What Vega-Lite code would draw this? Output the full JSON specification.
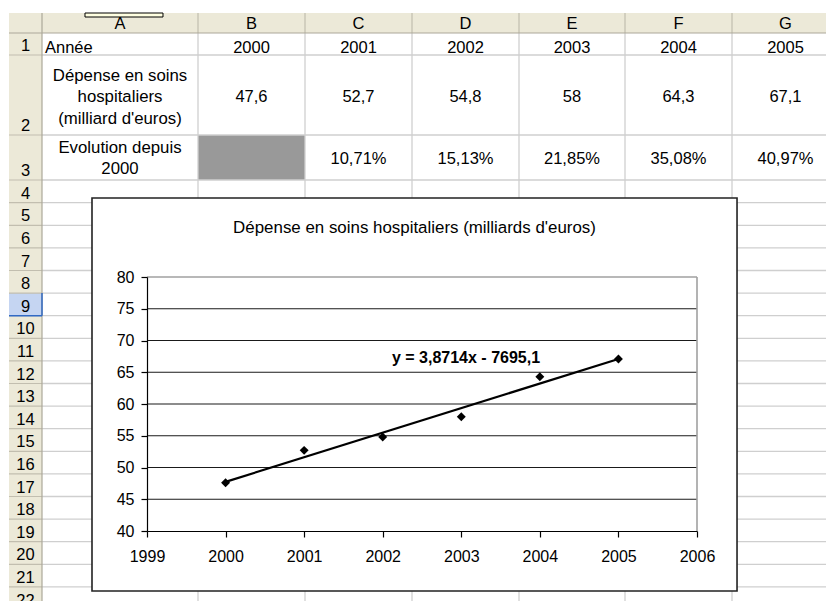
{
  "$schema": "https://vega.github.io/schema/vega-lite/v6.json",
  "width": 826,
  "height": 601,
  "autosize": "none",
  "padding": 0,
  "background": "white",
  "config": {"view": {"stroke": null}, "font": "Liberation Sans"},
  "title": {
    "text": "Dépense en soins hospitaliers (milliards d'euros)",
    "font": "Liberation Sans",
    "fontSize": 16.9,
    "fontWeight": "normal",
    "color": "#000000",
    "anchor": "middle",
    "frame": "group",
    "baseline": "alphabetic",
    "offset": -250,
    "dx": 1.5
  },
  "datasets": {
    "depense": [
      {"annee": 2000, "depense": 47.6},
      {"annee": 2001, "depense": 52.7},
      {"annee": 2002, "depense": 54.8},
      {"annee": 2003, "depense": 58},
      {"annee": 2004, "depense": 64.3},
      {"annee": 2005, "depense": 67.1}
    ],
    "cells": [
      {"row": 0, "col": 1, "text": "A"},
      {"row": 0, "col": 2, "text": "B"},
      {"row": 0, "col": 3, "text": "C"},
      {"row": 0, "col": 4, "text": "D"},
      {"row": 0, "col": 5, "text": "E"},
      {"row": 0, "col": 6, "text": "F"},
      {"row": 0, "col": 7, "text": "G"},
      {"row": 1, "col": 1, "text": "Année"},
      {"row": 1, "col": 2, "text": "2000"},
      {"row": 1, "col": 3, "text": "2001"},
      {"row": 1, "col": 4, "text": "2002"},
      {"row": 1, "col": 5, "text": "2003"},
      {"row": 1, "col": 6, "text": "2004"},
      {"row": 1, "col": 7, "text": "2005"},
      {"row": 2, "col": 1, "text": "Dépense en soins\nhospitaliers\n(milliard d'euros)"},
      {"row": 2, "col": 2, "text": "47,6"},
      {"row": 2, "col": 3, "text": "52,7"},
      {"row": 2, "col": 4, "text": "54,8"},
      {"row": 2, "col": 5, "text": "58"},
      {"row": 2, "col": 6, "text": "64,3"},
      {"row": 2, "col": 7, "text": "67,1"},
      {"row": 3, "col": 1, "text": "Evolution depuis\n2000"},
      {"row": 3, "col": 3, "text": "10,71%"},
      {"row": 3, "col": 4, "text": "15,13%"},
      {"row": 3, "col": 5, "text": "21,85%"},
      {"row": 3, "col": 6, "text": "35,08%"},
      {"row": 3, "col": 7, "text": "40,97%"}
    ],
    "colEdges": [{"e": 1.5}, {"e": 2.5}, {"e": 3.5}, {"e": 4.5}, {"e": 5.5}, {"e": 6.5}],
    "rowEdges": [
      {"e": 1.5}, {"e": 2.5}, {"e": 3.5}, {"e": 4.5}, {"e": 5.5}, {"e": 6.5}, {"e": 7.5},
      {"e": 8.5}, {"e": 9.5}, {"e": 10.5}, {"e": 11.5}, {"e": 12.5}, {"e": 13.5}, {"e": 14.5},
      {"e": 15.5}, {"e": 16.5}, {"e": 17.5}, {"e": 18.5}, {"e": 19.5}, {"e": 20.5}, {"e": 21.5}
    ],
    "rows": [
      {"row": 1}, {"row": 2}, {"row": 3}, {"row": 4}, {"row": 5}, {"row": 6}, {"row": 7}, {"row": 8},
      {"row": 9}, {"row": 10}, {"row": 11}, {"row": 12}, {"row": 13}, {"row": 14}, {"row": 15},
      {"row": 16}, {"row": 17}, {"row": 18}, {"row": 19}, {"row": 20}, {"row": 21}, {"row": 22}
    ],
    "gridVals": [{"v": 45}, {"v": 50}, {"v": 55}, {"v": 60}, {"v": 65}, {"v": 70}, {"v": 75}]
  },
  "resolve": {"scale": {"x": "independent", "y": "independent"}},
  "layer": [
    {
      "layer": [
        {
          "data": {"values": [{}]},
          "mark": {"type": "rect", "fill": "#ECE9D8"},
          "encoding": {
            "x": {"datum": -0.5, "type": "quantitative", "axis": null, "scale": {"type": "linear", "domain": [-0.5, 0.5, 1.5, 2.5, 3.5, 4.5, 5.5, 6.5, 7.5], "range": [9, 42, 198, 305, 412, 519, 625, 732, 839], "zero": false, "nice": false}},
            "x2": {"datum": 7.5},
            "y": {"datum": -0.5, "type": "quantitative", "axis": null, "scale": {"type": "linear", "domain": [-0.5, 0.5, 1.5, 2.5, 3.5, 4.5, 22.5], "range": [13, 33, 55, 135, 180, 202.7, 609.5], "zero": false, "nice": false}},
            "y2": {"datum": 0.5}
          }
        },
        {
          "data": {"values": [{}]},
          "mark": {"type": "rect", "fill": "#ECE9D8"},
          "encoding": {
            "x": {"datum": -0.5, "type": "quantitative", "axis": null},
            "x2": {"datum": 0.5},
            "y": {"datum": 0.5, "type": "quantitative", "axis": null},
            "y2": {"datum": 22.5}
          }
        },
        {
          "data": {"values": [{}]},
          "mark": {"type": "rect", "fill": "#C5D5F2"},
          "encoding": {
            "x": {"datum": -0.5, "type": "quantitative", "axis": null},
            "x2": {"datum": 0.5},
            "y": {"datum": 8.5, "type": "quantitative", "axis": null},
            "y2": {"datum": 9.5}
          }
        },
        {
          "data": {"values": [{}]},
          "mark": {"type": "rect", "fill": "#999999"},
          "encoding": {
            "x": {"datum": 1.5, "type": "quantitative", "axis": null},
            "x2": {"datum": 2.5},
            "y": {"datum": 2.5, "type": "quantitative", "axis": null},
            "y2": {"datum": 3.5}
          }
        },
        {
          "data": {"name": "colEdges"},
          "mark": {"type": "rule", "color": "#CFCFCF", "strokeWidth": 1.3},
          "encoding": {
            "x": {"field": "e", "type": "quantitative", "axis": null},
            "y": {"datum": 0.5, "type": "quantitative", "axis": null},
            "y2": {"datum": 22.5}
          }
        },
        {
          "data": {"name": "rowEdges"},
          "mark": {"type": "rule", "color": "#CFCFCF", "strokeWidth": 1.3},
          "encoding": {
            "y": {"field": "e", "type": "quantitative", "axis": null},
            "x": {"datum": 0.5, "type": "quantitative", "axis": null},
            "x2": {"datum": 7.5}
          }
        },
        {
          "data": {"name": "colEdges"},
          "mark": {"type": "rule", "color": "#C2BEAF", "strokeWidth": 1.2},
          "encoding": {
            "x": {"field": "e", "type": "quantitative", "axis": null},
            "y": {"datum": -0.5, "type": "quantitative", "axis": null},
            "y2": {"datum": 0.5}
          }
        },
        {
          "data": {"name": "rowEdges"},
          "mark": {"type": "rule", "color": "#C2BEAF", "strokeWidth": 1.2},
          "encoding": {
            "y": {"field": "e", "type": "quantitative", "axis": null},
            "x": {"datum": -0.5, "type": "quantitative", "axis": null},
            "x2": {"datum": 0.5}
          }
        },
        {
          "data": {"values": [{}]},
          "mark": {"type": "rule", "color": "#ACA899", "strokeWidth": 1.2},
          "encoding": {
            "y": {"datum": 0.5, "type": "quantitative", "axis": null},
            "x": {"datum": -0.5, "type": "quantitative", "axis": null},
            "x2": {"datum": 7.5}
          }
        },
        {
          "data": {"values": [{}]},
          "mark": {"type": "rule", "color": "#ACA899", "strokeWidth": 1.2},
          "encoding": {
            "x": {"datum": 0.5, "type": "quantitative", "axis": null},
            "y": {"datum": -0.5, "type": "quantitative", "axis": null},
            "y2": {"datum": 22.5}
          }
        },
        {
          "data": {"values": [{}]},
          "mark": {"type": "rule", "color": "#316AC5", "strokeWidth": 1.5},
          "encoding": {
            "x": {"datum": 0.5, "type": "quantitative", "axis": null},
            "y": {"datum": 8.5, "type": "quantitative", "axis": null},
            "y2": {"datum": 9.5}
          }
        },
        {
          "data": {"values": [{}]},
          "mark": {"type": "rule", "color": "#316AC5", "strokeWidth": 1.5},
          "encoding": {
            "y": {"datum": 9.5, "type": "quantitative", "axis": null},
            "x": {"datum": -0.5, "type": "quantitative", "axis": null},
            "x2": {"datum": 0.5}
          }
        },
        {
          "data": {"name": "cells"},
          "transform": [{"filter": "datum.row == 0"}],
          "mark": {"type": "text", "font": "Liberation Sans", "fontSize": 16.5, "color": "#000000", "align": "center", "baseline": "middle", "dy": 1},
          "encoding": {
            "x": {"field": "col", "type": "quantitative", "axis": null},
            "y": {"field": "row", "type": "quantitative", "axis": null},
            "text": {"field": "text", "type": "nominal"}
          }
        },
        {
          "data": {"name": "cells"},
          "transform": [{"filter": "datum.row == 1 && datum.col > 1"}],
          "mark": {"type": "text", "font": "Liberation Sans", "fontSize": 16.5, "color": "#000000", "align": "center", "baseline": "middle", "dy": 4},
          "encoding": {
            "x": {"field": "col", "type": "quantitative", "axis": null},
            "y": {"field": "row", "type": "quantitative", "axis": null},
            "text": {"field": "text", "type": "nominal"}
          }
        },
        {
          "data": {"name": "cells"},
          "transform": [{"filter": "datum.row == 1 && datum.col == 1"}],
          "mark": {"type": "text", "font": "Liberation Sans", "fontSize": 16.5, "color": "#000000", "align": "left", "baseline": "middle", "dy": 4, "dx": 3},
          "encoding": {
            "x": {"datum": 0.5, "type": "quantitative", "axis": null},
            "y": {"field": "row", "type": "quantitative", "axis": null},
            "text": {"field": "text", "type": "nominal"}
          }
        },
        {
          "data": {"name": "cells"},
          "transform": [{"filter": "datum.row >= 2 && datum.col > 1"}],
          "mark": {"type": "text", "font": "Liberation Sans", "fontSize": 16.5, "color": "#000000", "align": "center", "baseline": "middle", "dy": 1.5},
          "encoding": {
            "x": {"field": "col", "type": "quantitative", "axis": null},
            "y": {"field": "row", "type": "quantitative", "axis": null},
            "text": {"field": "text", "type": "nominal"}
          }
        },
        {
          "data": {"name": "cells"},
          "transform": [{"filter": "datum.row == 2 && datum.col == 1"}],
          "mark": {"type": "text", "font": "Liberation Sans", "fontSize": 16.8, "color": "#000000", "align": "center", "baseline": "middle", "dy": -19.5, "lineBreak": "\n", "lineHeight": 21.5},
          "encoding": {
            "x": {"field": "col", "type": "quantitative", "axis": null},
            "y": {"field": "row", "type": "quantitative", "axis": null},
            "text": {"field": "text", "type": "nominal"}
          }
        },
        {
          "data": {"name": "cells"},
          "transform": [{"filter": "datum.row == 3 && datum.col == 1"}],
          "mark": {"type": "text", "font": "Liberation Sans", "fontSize": 16.8, "color": "#000000", "align": "center", "baseline": "middle", "dy": -9.5, "lineBreak": "\n", "lineHeight": 20.5},
          "encoding": {
            "x": {"field": "col", "type": "quantitative", "axis": null},
            "y": {"field": "row", "type": "quantitative", "axis": null},
            "text": {"field": "text", "type": "nominal"}
          }
        },
        {
          "data": {"values": [{}]},
          "mark": {"type": "rect", "fill": "#FFFFE1", "stroke": "#000000", "strokeWidth": 1},
          "encoding": {
            "x": {"datum": 0.7756, "type": "quantitative", "axis": null},
            "x2": {"datum": 1.2756},
            "y": {"datum": -0.5, "type": "quantitative", "axis": null},
            "y2": {"datum": -0.3}
          }
        },
        {
          "data": {"values": [{}]},
          "mark": {"type": "rect", "fill": "#FFFFFF", "stroke": "#222222", "strokeWidth": 1.6},
          "encoding": {
            "x": {"datum": 0.8205, "type": "quantitative", "axis": null},
            "x2": {"datum": 6.547},
            "y": {"datum": 4.293, "type": "quantitative", "axis": null},
            "y2": {"datum": 21.68}
          }
        }
      ]
    },
    {
      "data": {"name": "rows"},
      "mark": {"type": "text", "font": "Liberation Sans", "fontSize": 16.5, "color": "#000000", "align": "center", "baseline": "alphabetic", "dy": -4},
      "encoding": {
        "x": {"datum": 0, "type": "quantitative", "axis": null, "scale": {"type": "linear", "domain": [-0.5, 0.5], "range": [9, 42], "zero": false, "nice": false}},
        "y": {"field": "row", "type": "quantitative", "axis": null, "scale": {"type": "linear", "domain": [0, 1, 2, 3, 4, 22], "range": [33, 55, 135, 180, 202.7, 609.5], "zero": false, "nice": false}},
        "text": {"field": "row", "type": "quantitative", "format": "d"}
      }
    },
    {
      "layer": [
        {
          "data": {"name": "gridVals"},
          "mark": {"type": "rule", "color": "#1A1A1A", "strokeWidth": 1.2},
          "encoding": {
            "y": {"field": "v", "type": "quantitative", "scale": {"domain": [40, 80], "range": [531, 277], "zero": false, "nice": false}},
            "x": {"datum": 1999, "type": "quantitative", "scale": {"domain": [1999, 2006], "range": [147, 697], "zero": false, "nice": false}},
            "x2": {"datum": 2006}
          }
        },
        {
          "data": {"values": [{}]},
          "mark": {"type": "rule", "color": "#A0A0A0", "strokeWidth": 1.6},
          "encoding": {
            "y": {"datum": 80, "type": "quantitative"},
            "x": {"datum": 1999, "type": "quantitative"},
            "x2": {"datum": 2006}
          }
        },
        {
          "data": {"values": [{}]},
          "mark": {"type": "rule", "color": "#A0A0A0", "strokeWidth": 1.6},
          "encoding": {
            "x": {"datum": 2006, "type": "quantitative"},
            "y": {"datum": 40, "type": "quantitative"},
            "y2": {"datum": 80}
          }
        },
        {
          "data": {"name": "depense"},
          "transform": [{"regression": "depense", "on": "annee"}],
          "mark": {"type": "line", "color": "#000000", "strokeWidth": 2.2},
          "encoding": {
            "x": {"field": "annee", "type": "quantitative"},
            "y": {"field": "depense", "type": "quantitative"}
          }
        },
        {
          "data": {"name": "depense"},
          "mark": {"type": "point", "shape": "diamond", "filled": true, "size": 80, "color": "#000000", "opacity": 1},
          "encoding": {
            "x": {
              "field": "annee", "type": "quantitative",
              "axis": {
                "orient": "bottom",
                "values": [1999, 2000, 2001, 2002, 2003, 2004, 2005, 2006],
                "format": "d", "title": null, "grid": false, "offset": -70, "zindex": 2,
                "tickSize": 6, "tickColor": "#000000", "tickWidth": 1.2,
                "domainColor": "#000000", "domainWidth": 1.2,
                "labelFont": "Liberation Sans", "labelFontSize": 16, "labelColor": "#000000",
                "labelPadding": 11, "labelFlush": false, "labelOverlap": false, "labelBound": false
              }
            },
            "y": {
              "field": "depense", "type": "quantitative",
              "axis": {
                "orient": "left",
                "values": [40, 45, 50, 55, 60, 65, 70, 75, 80],
                "format": "d", "title": null, "grid": false, "offset": -147, "zindex": 2,
                "tickSize": 6, "tickColor": "#000000", "tickWidth": 1.2,
                "domainColor": "#000000", "domainWidth": 1.2,
                "labelFont": "Liberation Sans", "labelFontSize": 16, "labelColor": "#000000",
                "labelPadding": 7, "labelOverlap": false, "labelBound": false, "labelFlush": false
              }
            }
          }
        },
        {
          "data": {"values": [{}]},
          "mark": {"type": "text", "font": "Liberation Sans", "fontSize": 16, "fontWeight": "bold", "color": "#000000", "align": "center", "baseline": "middle"},
          "encoding": {
            "x": {"datum": 2003.06, "type": "quantitative"},
            "y": {"datum": 67.17, "type": "quantitative"},
            "text": {"value": "y = 3,8714x - 7695,1"}
          }
        }
      ]
    }
  ]
}
